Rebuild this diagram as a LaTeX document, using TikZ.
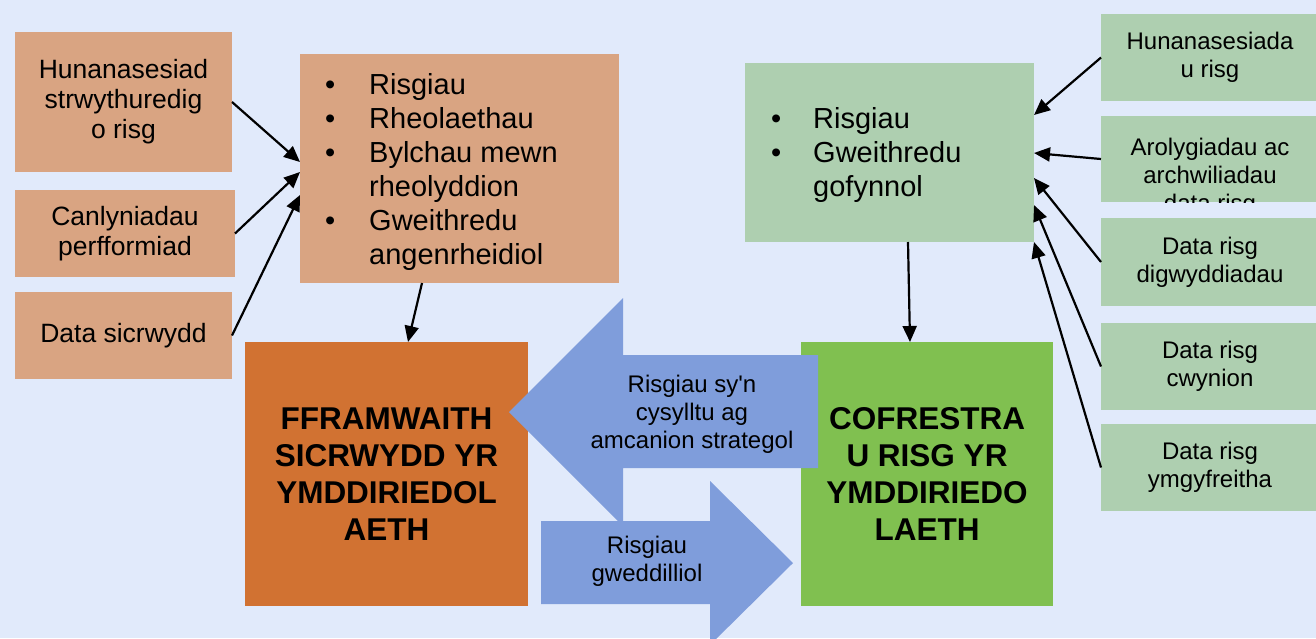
\documentclass[tikz,border=0pt]{standalone}
\usepackage{fontspec}
\setmainfont{Liberation Sans}
\usetikzlibrary{arrows.meta,calc}
\definecolor{bg}{HTML}{E1EAFB}
\definecolor{tanbox}{HTML}{D9A482}
\definecolor{orangebox}{HTML}{D17232}
\definecolor{greenbox}{HTML}{80C050}
\definecolor{lightgreen}{HTML}{AECFB0}
\definecolor{bluearrow}{HTML}{7F9DDB}
\newcommand{\bitem}[1]{\makebox[44pt][l]{\textbullet}#1}
\newcommand{\bcont}[1]{\hspace*{44pt}#1}
\newcommand{\straightapos}{\XeTeXglyph\XeTeXglyphindex "quotesingle"\relax}
\begin{document}
\begin{tikzpicture}[x=1pt,y=-1pt,
  box/.style={rectangle, inner sep=0pt, outer sep=0pt, anchor=north west},
  tanb/.style={box, fill=tanbox, align=center, font=\fontsize{26.5}{30}\selectfont},
  rightb/.style={box, fill=lightgreen, align=center, minimum width=218pt, font=\fontsize{24}{28}\selectfont},
  bigtext/.style={box, align=center, font=\fontsize{31.5}{37}\bfseries\selectfont},
  arrowtext/.style={align=center, font=\fontsize{24}{28}\selectfont},
  conn/.style={line width=2.2pt, -{Triangle[length=16pt,width=14pt]}}]
\useasboundingbox (0,0) rectangle (1316,638);
\clip (0,0) rectangle (1316,638);
\fill[bg] (0,0) rectangle (1316,638);

% left boxes
\node[tanb, minimum width=217pt, minimum height=140pt] (L1) at (15,32) {Hunanasesiad\\strwythuredig\\o risg};
\node[tanb, minimum width=220pt, minimum height=87pt] (L2) at (15,190) {Canlyniadau\\perfformiad};
\node[tanb, minimum width=217pt, minimum height=87pt] (L3) at (15,292) {Data sicrwydd};

% centre top box
\node[box, fill=tanbox, minimum width=319pt, minimum height=229pt] (T) at (300,54) {};
\node[anchor=west, inner sep=0pt, align=left, font=\fontsize{29}{34}\selectfont] (Tt) at (325,171.5)
  {\bitem{Risgiau}\\\bitem{Rheolaethau}\\\bitem{Bylchau mewn}\\\bcont{rheolyddion}\\\bitem{Gweithredu}\\\bcont{angenrheidiol}};

% green top box
\node[box, fill=lightgreen, minimum width=289pt, minimum height=179pt] (GT) at (745,63) {};
\node[anchor=west, inner sep=0pt, align=left, font=\fontsize{29}{34}\selectfont] (GTt) at (771,155)
  {\makebox[42pt][l]{\textbullet}Risgiau\\\makebox[42pt][l]{\textbullet}Gweithredu\\\hspace*{42pt}gofynnol};

% big boxes
\node[bigtext, fill=orangebox, minimum width=283pt, minimum height=264pt] (O) at (245,342) {FFRAMWAITH\\SICRWYDD YR\\YMDDIRIEDOL\\AETH};
\node[bigtext, fill=greenbox, minimum width=252pt, minimum height=264pt] (G) at (801,342) {COFRESTRA\\U RISG YR\\YMDDIRIEDO\\LAETH};

% right boxes
\node[rightb, minimum height=87pt] (R1) at (1101,14) {Hunanasesiada\\u risg};
\node[rightb, minimum height=86pt] (R2) at (1101,116) {};
\begin{scope}
  \clip (1101,116) rectangle (1319,202);
  \node[align=center, inner sep=0pt, font=\fontsize{24}{28}\selectfont] (R2t) at (1210,177) {Arolygiadau ac\\archwiliadau\\data risg};
\end{scope}
\node[rightb, minimum height=88pt] (R3) at (1101,218) {Data risg\\digwyddiadau};
\node[rightb, minimum height=87pt] (R4) at (1101,323) {Data risg\\cwynion};
\node[rightb, minimum height=87pt] (R5) at (1101,424) {Data risg\\ymgyfreitha};

% big block arrows
\fill[bluearrow] (509,412) -- (623,298) -- (623,355) -- (818,355) -- (818,468) -- (623,468) -- (623,526) -- cycle;
\fill[bluearrow] (541,521) -- (710,521) -- (710,481) -- (793,563) -- (710,645) -- (710,604) -- (541,604) -- cycle;
\node[arrowtext] (A1t) at (692,414) {Risgiau sy\straightapos n\\cysylltu ag\\amcanion strategol};
\node[arrowtext] (A2t) at (647,561.5) {Risgiau\\gweddilliol};

% connectors
\draw[conn] (L1.east) -- ([yshift=6.5pt]T.west);
\draw[conn] (L2.east) -- ([yshift=-3.5pt]T.west);
\draw[conn] (L3.east) -- ([yshift=-26.5pt]T.west);
\draw[conn] ([xshift=-37.5pt]T.south) -- ([xshift=21.5pt]O.north);
\draw[conn] ([xshift=18.5pt]GT.south) -- ([xshift=-17pt]G.north);
\draw[conn] (R1.west) -- ([yshift=37.5pt]GT.east);
\draw[conn] (R2.west) -- ([yshift=-0.5pt]GT.east);
\draw[conn] (R3.west) -- ([yshift=-25.5pt]GT.east);
\draw[conn] (R4.west) -- ([yshift=-52.5pt]GT.east);
\draw[conn] (R5.west) -- (GT.south east);
\end{tikzpicture}
\end{document}
